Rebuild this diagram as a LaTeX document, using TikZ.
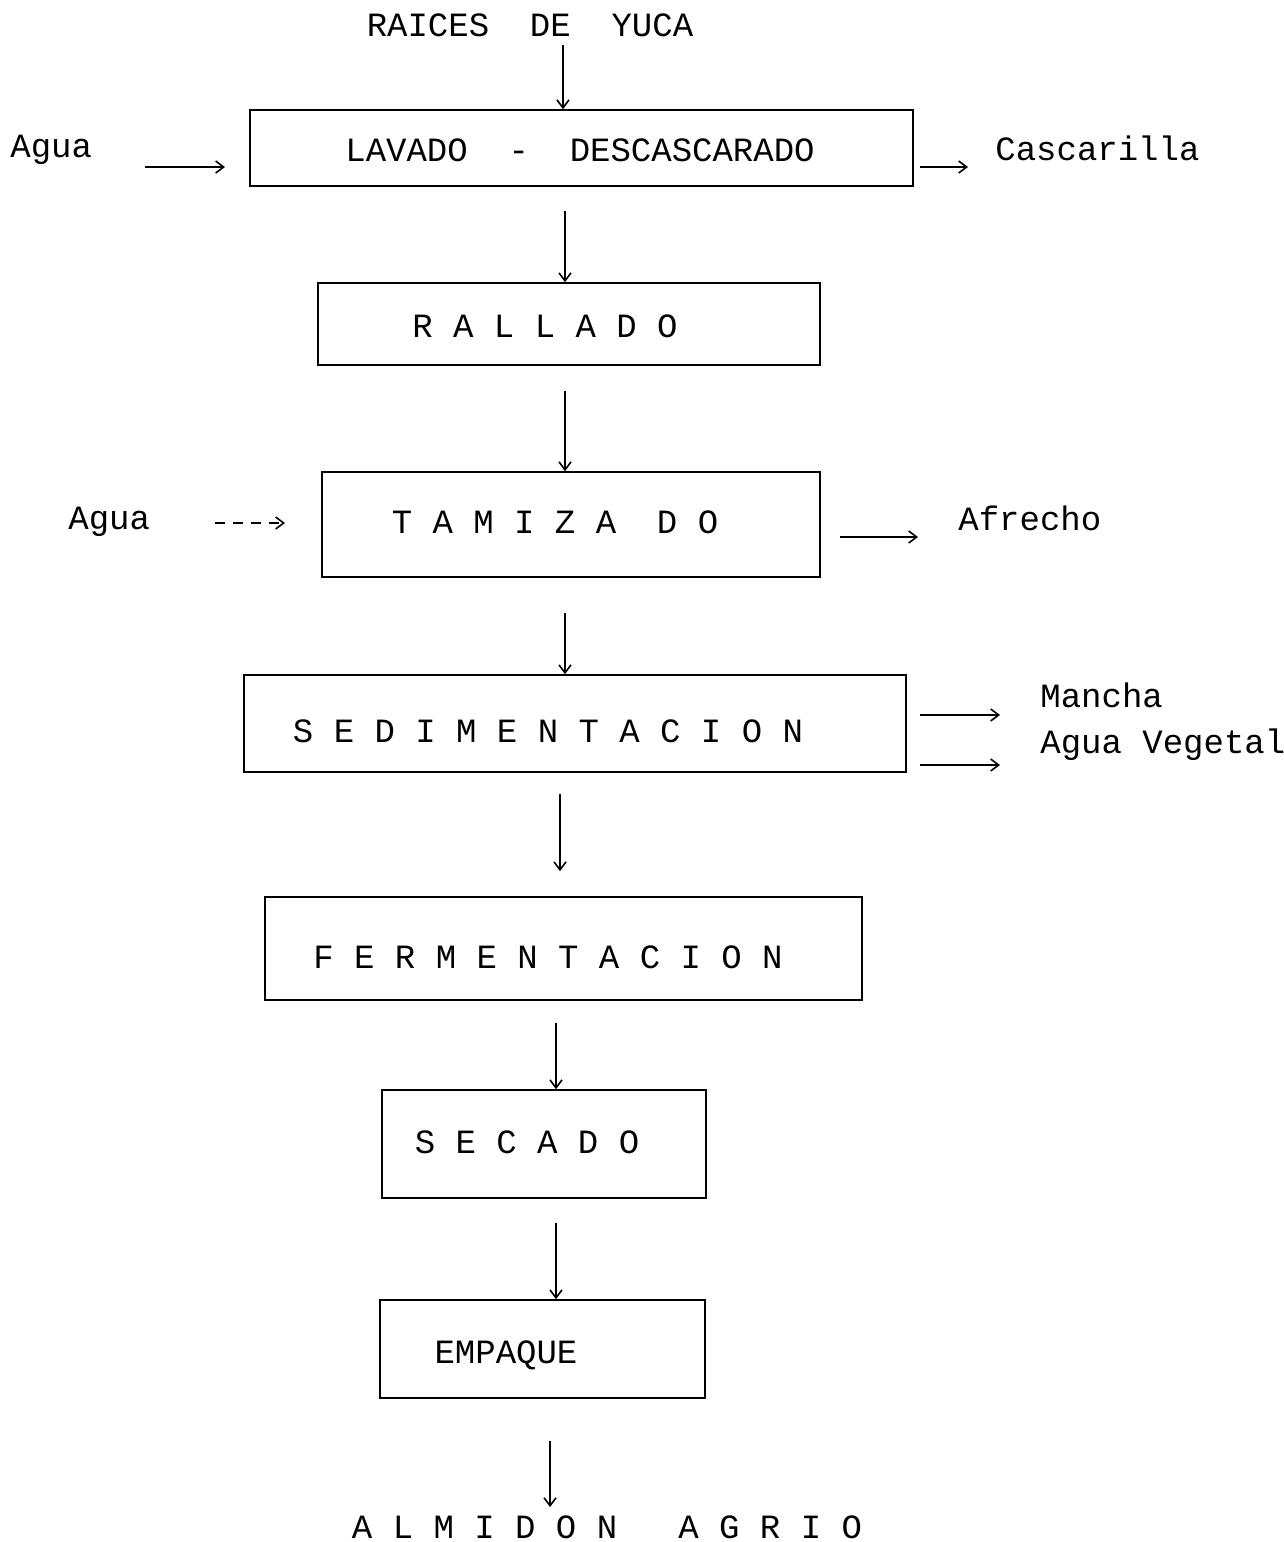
\documentclass[tikz,border=0pt]{standalone}
\usepackage{fontspec}
\setmonofont{Liberation Mono}
\usetikzlibrary{arrows.meta}
\tikzset{
  box/.style={draw, line width=0.8pt, inner sep=0pt},
  lbl/.style={font=\ttfamily\fontsize{17}{20}\selectfont, inner sep=0pt},
  flow/.style={-{Straight Barb[length=4pt,width=6pt]}, line width=0.8pt},
}
\begin{document}
\begin{tikzpicture}[x=0.5pt,y=-0.5pt]
  \useasboundingbox (0,0) rectangle (1284,1542);
  % process boxes
  \node[box, minimum width=331.5pt, minimum height=38pt] (b1) at (581.5,148) {};
  \node[box, minimum width=251pt, minimum height=41pt] (b2) at (569,324) {};
  \node[box, minimum width=249pt, minimum height=52.5pt] (b3) at (571,524.5) {};
  \node[box, minimum width=331pt, minimum height=48.5pt] (b4) at (575,723.5) {};
  \node[box, minimum width=298.5pt, minimum height=51.5pt] (b5) at (563.5,948.5) {};
  \node[box, minimum width=162pt, minimum height=54pt] (b6) at (544,1144) {};
  \node[box, minimum width=162.5pt, minimum height=49pt] (b7) at (542.5,1349) {};
  % texts
  \node[lbl] (raices) at (530,25) {RAICES~~DE~~YUCA};
  \node[lbl] (t1) at (580,150) {LAVADO~~-~~DESCASCARADO};
  \node[lbl] (t2) at (545,326) {R A L L A D O};
  \node[lbl] (t3) at (555,522) {T A M I Z A~~D O};
  \node[lbl] (t4) at (548,731) {S E D I M E N T A C I O N};
  \node[lbl] (t5) at (548,957) {F E R M E N T A C I O N};
  \node[lbl] (t6) at (527,1142) {S E C A D O};
  \node[lbl] (t7) at (506,1355) {EMPAQUE};
  \node[lbl] (almidon) at (607,1527) {A L M I D O N~~~A G R I O};
  \node[lbl, anchor=west] (agua1) at (10,150) {Agua};
  \node[lbl, anchor=west] (cascarilla) at (995,148) {Cascarilla};
  \node[lbl, anchor=west] (agua2) at (68,522) {Agua};
  \node[lbl, anchor=west] (afrecho) at (958,518) {Afrecho};
  \node[lbl, anchor=west] (mancha) at (1040,695) {Mancha};
  \node[lbl, anchor=west] (vegetal) at (1040,745) {Agua Vegetal};
  % main line
  \draw[flow, shorten <=4pt] (raices.south -| 563,0) -- (b1.north -| 563,0);
  \draw[flow, shorten <=12pt] (b1.south -| 565,0) -- (b2.north -| 565,0);
  \draw[flow, shorten <=12.5pt] (b2.south -| 565,0) -- (b3.north -| 565,0);
  \draw[flow, shorten <=17.5pt] (b3.south -| 565,0) -- (b4.north -| 565,0);
  \draw[flow, shorten <=10.5pt, shorten >=12.5pt] (b4.south -| 560,0) -- (b5.north -| 560,0);
  \draw[flow, shorten <=11pt] (b5.south -| 556,0) -- (b6.north -| 556,0);
  \draw[flow, shorten <=12pt] (b6.south -| 556,0) -- (b7.north -| 556,0);
  \draw[flow, shorten <=21pt, shorten >=4pt] (b7.south -| 550,0) -- (almidon.north -| 550,0);
  % side streams
  \coordinate (in1) at (145,167);
  \coordinate (out1) at (920,167);
  \coordinate (in2) at (215,523);
  \coordinate (out2) at (840,537);
  \coordinate (out3) at (920,715);
  \coordinate (out4) at (920,765);
  \draw[flow] (in1) -- ++(80,0);
  \draw[flow] (out1) -- ++(48,0);
  \draw[flow, dash pattern=on 5pt off 4pt] (in2) -- ++(70,0);
  \draw[flow] (out2) -- ++(78,0);
  \draw[flow] (out3) -- ++(80,0);
  \draw[flow] (out4) -- ++(80,0);
\end{tikzpicture}
\end{document}
